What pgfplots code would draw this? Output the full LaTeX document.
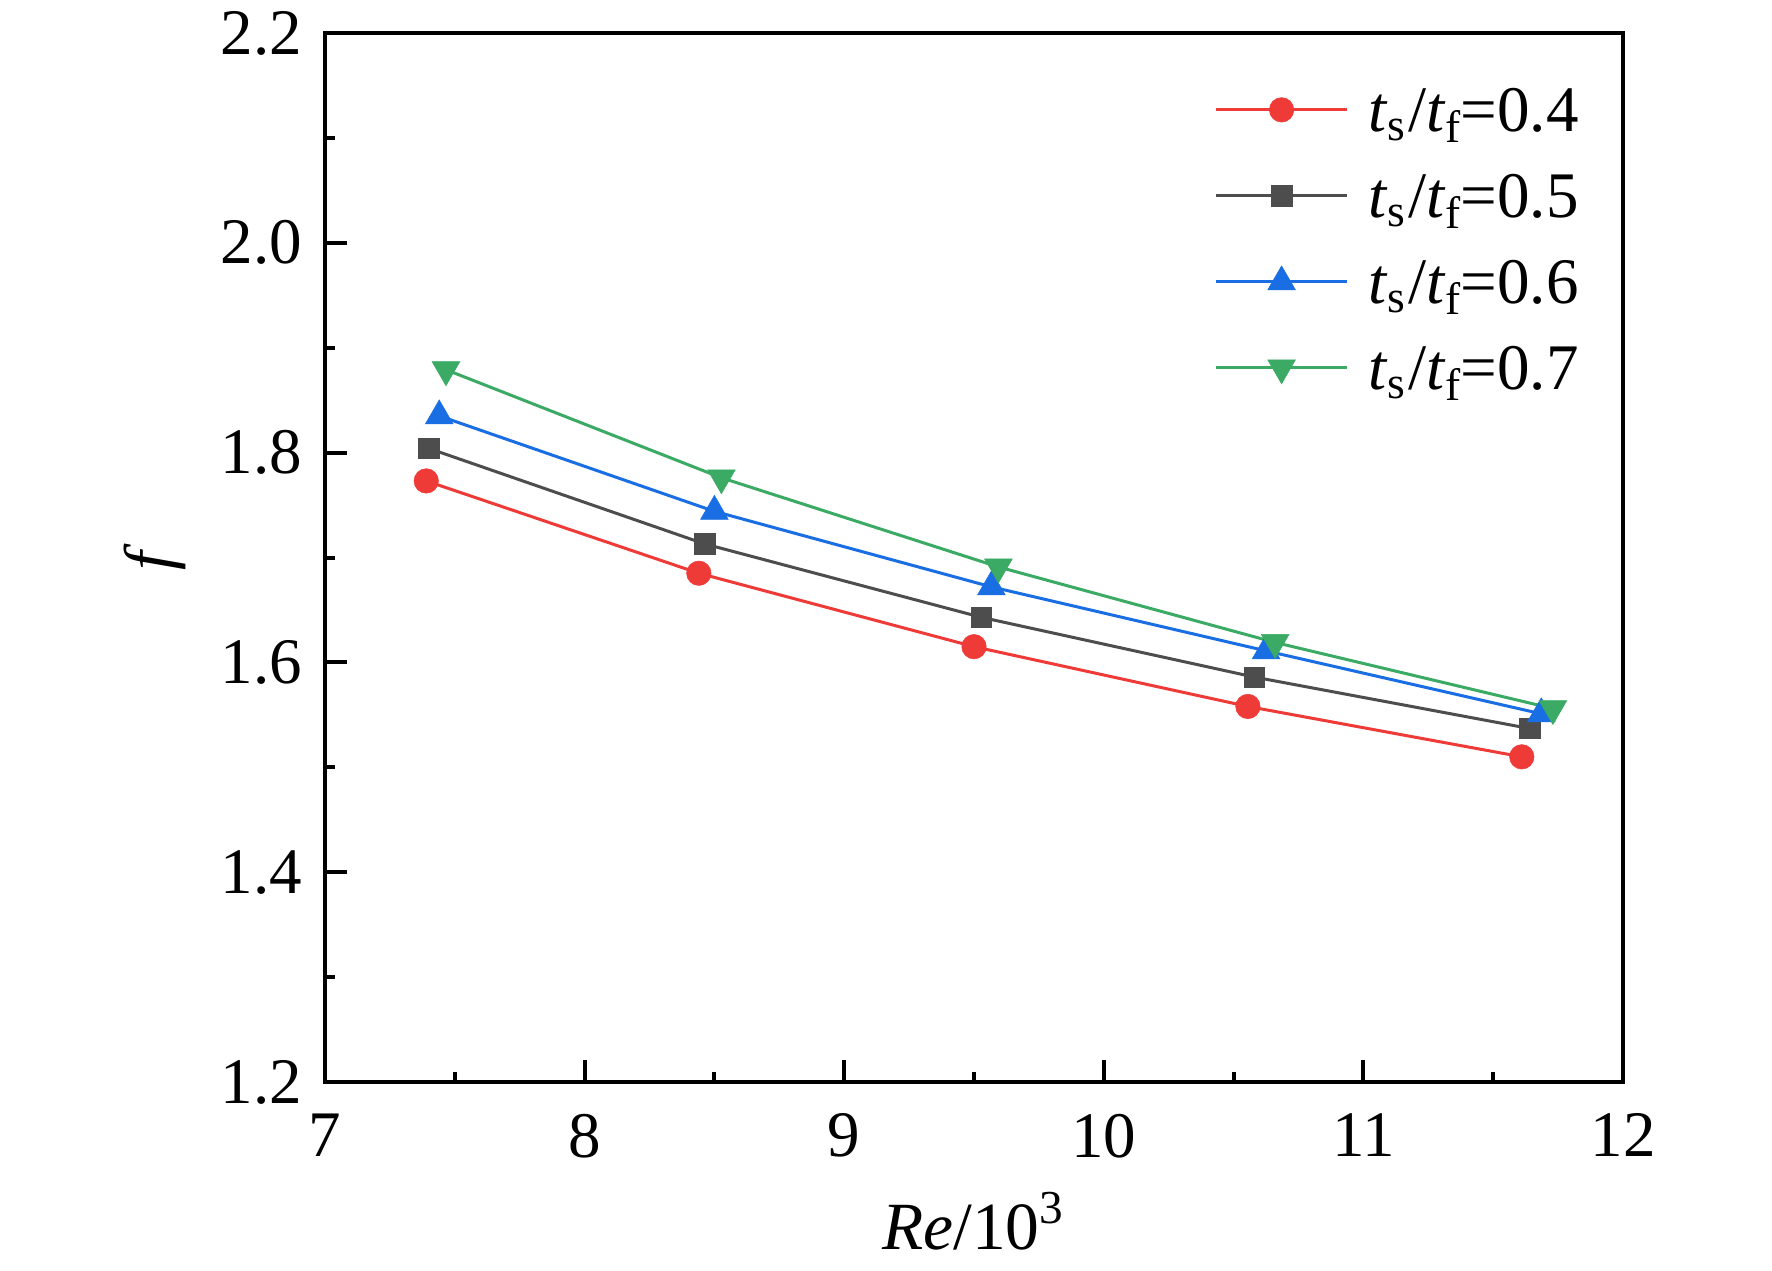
\documentclass[border=0pt]{standalone}
\usepackage{fontspec}
\setmainfont{Liberation Serif}
\usepackage{pgfplots}
\pgfplotsset{compat=1.18}
\definecolor{cred}{RGB}{239,59,56}
\definecolor{cgray}{RGB}{77,77,77}
\definecolor{cblue}{RGB}{26,110,228}
\definecolor{cgreen}{RGB}{58,170,100}
\newcommand{\lgt}[1]{\textit{t}\textsubscript{s}/\textit{t}\textsubscript{f}\kern-0.5pt=#1}
\begin{document}
\begin{tikzpicture}
\begin{axis}[name=ax, scale only axis, width=259.6pt, height=209.8pt,
  xmin=7, xmax=12, ymin=1.2, ymax=2.2,
  xtick={7,8,9,10,11,12}, ytick={1.2,1.4,1.6,1.8,2.0,2.2},
  minor x tick num=1, minor y tick num=1,
  tick pos=left, tick align=inside,
  major tick length=4.4pt, minor tick length=2pt,
  every tick/.style={black, line width=0.8pt},
  line width=0.85pt,
  /pgf/number format/assume math mode=true,
  yticklabel={\pgfmathprintnumber[fixed,fixed zerofill,precision=1]{\tick}},
  xticklabel={\pgfmathprintnumber{\tick}},
  tick label style={font=\fontsize{13}{15.6}\selectfont},
  y tick label style={xshift=-0.8pt},
  x tick label style={yshift=-2.6pt},
  xlabel={\textit{Re}/10\textsuperscript{3}},
  ylabel={\textit{f}},
  xlabel style={at={(axis description cs:0.5,-0.160)}, anchor=base, font=\fontsize{13.5}{16}\selectfont},
  ylabel style={at={(axis description cs:-0.118,0.5)}, anchor=base, font=\fontsize{13.5}{16}\selectfont},
  legend cell align=left,
  legend style={at={(axis description cs:0.6837,0.9588)}, anchor=north west,
    draw=none, fill=none, inner sep=0pt, column sep=4pt, row sep=4.6pt,
    font=\fontsize{13}{15.6}\selectfont,
    nodes={inner sep=0pt, text height=10.6pt, text depth=2pt}},
  legend image code/.code={\draw[mark repeat=2,mark phase=2,#1] plot coordinates {(0pt,0pt) (13.1pt,0pt) (26.2pt,0pt)};},
]
\addplot[color=cred, line width=0.6pt, mark=*, mark size=2.45pt, mark options={fill=cred, line width=0.1pt}]
  coordinates {(7.39,1.773) (8.44,1.685) (9.50,1.615) (10.555,1.558) (11.61,1.510)};
\addlegendentry{\lgt{0.4}}
\addplot[color=cgray, line width=0.6pt, mark=square*, mark size=2.05pt, mark options={fill=cgray, line width=0.1pt}]
  coordinates {(7.40,1.804) (8.462,1.713) (9.528,1.643) (10.58,1.586) (11.64,1.537)};
\addlegendentry{\lgt{0.5}}
\addplot[color=cblue, line width=0.6pt, mark=triangle*, mark size=3.2pt, mark options={fill=cblue, line width=0.1pt}]
  coordinates {(7.44,1.835) (8.50,1.744) (9.567,1.672) (10.625,1.611) (11.685,1.551)};
\addlegendentry{\lgt{0.6}}
\addplot[color=cgreen, line width=0.6pt, mark=triangle*, mark size=3.2pt, mark options={fill=cgreen, line width=0.1pt, rotate=180}]
  coordinates {(7.466,1.879) (8.527,1.776) (9.594,1.691) (10.66,1.619) (11.73,1.556)};
\addlegendentry{\lgt{0.7}}
\end{axis}
\pgfresetboundingbox
\path[use as bounding box] ([shift={(-65pt,-37.6pt)}]ax.south west) rectangle ([shift={(29.8pt,6.6pt)}]ax.north east);
\end{tikzpicture}
\end{document}
